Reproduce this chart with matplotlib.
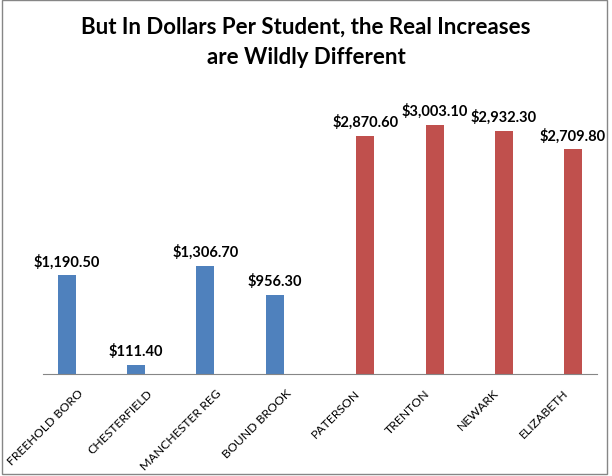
import numpy as np
import matplotlib.pyplot as plt
from matplotlib.patches import Rectangle

###DATA
districts = ['FREEHOLD BORO', 'CHESTERFIELD', 'MANCHESTER REG', 'BOUND BROOK',
             'PATERSON', 'TRENTON', 'NEWARK', 'ELIZABETH']
low_group = [1190.5, 111.4, 1306.7, 956.3, np.nan, np.nan, np.nan, np.nan]
high_group = [np.nan, np.nan, np.nan, np.nan, 2870.6, 3003.1, 2932.3, 2709.8]

###FIGURE
fig = plt.figure(figsize=(6.12, 4.77), dpi=100)
ax = fig.add_axes([0.0703, 0.2138, 0.905, 0.608])

x = np.arange(len(districts))
w = 0.26
ax.bar(x - 0.155, low_group, width=w, color='#4F81BD')
ax.bar(x + 0.155, high_group, width=w, color='#C0504D')

###DATA LABELS
for i in range(len(districts)):
    for off, vals in ((-0.155, low_group), (0.155, high_group)):
        v = vals[i]
        if np.isnan(v):
            continue
        ax.annotate('${:,.2f}'.format(v), (x[i] + off, v), xytext=(0, 5),
                    textcoords='offset points', ha='center', va='bottom',
                    fontsize=10.5, fontweight='bold', family='Lato')

ax.set_xlim(-0.5, len(districts) - 0.5)
ax.set_ylim(0, 3500)
ax.set_xticks(x)
ax.set_xticklabels(districts, rotation=45, ha='right', rotation_mode='anchor',
                   fontsize=8.8, family='Lato')
ax.tick_params(axis='x', length=0, pad=9)
ax.set_yticks([])
for s in ['left', 'right', 'top']:
    ax.spines[s].set_visible(False)
ax.spines['bottom'].set_color('#868686')

###TITLE
fig.text(0.5, 0.911, 'But In Dollars Per Student, the Real Increases\nare Wildly Different',
         ha='center', va='center', fontsize=16, fontweight='bold', family='Lato',
         linespacing=1.55)

###CHART BORDER
fig.patches.append(Rectangle((0.004, 0.004), 0.988, 0.994, transform=fig.transFigure,
                             fill=False, edgecolor='#868686', linewidth=1))

fig.savefig('out.png', dpi=100)
